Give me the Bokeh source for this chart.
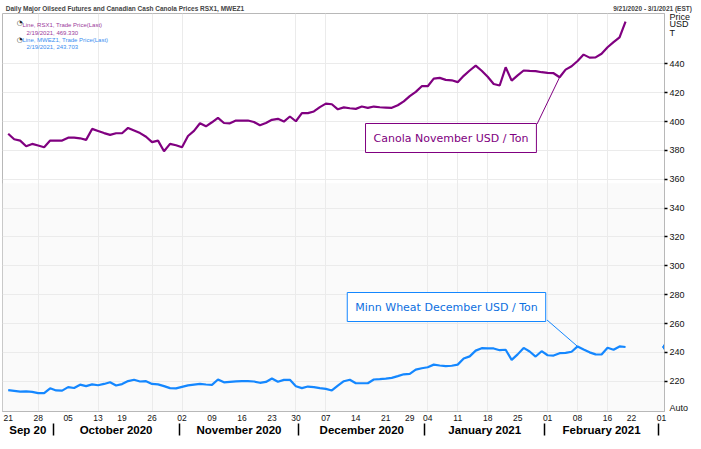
import pandas as pd
from bokeh.plotting import figure
from bokeh.models import Range1d, FixedTicker, LinearAxis, Label, BoxAnnotation, Arrow
from bokeh.embed import file_html
from bokeh.resources import INLINE

# ---------------- data ----------------
first_day = "2020-09-21"
last_day = "2021-03-01"
holidays = ["2020-10-12", "2020-11-26", "2020-12-25", "2020-12-28", "2021-01-01", "2021-02-15"]

canola = [391.5, 387.7, 386.8, 382.9, 384.5, 383.4, 382.2, 386.8, 386.8, 386.8,
          388.8, 388.8, 388.4, 387.3, 394.9, 393.5, 392.0, 390.8, 391.9, 391.9,
          395.6, 393.8, 392.0, 389.5, 385.7, 386.8, 379.4, 384.5, 383.6, 382.2,
          390.0, 393.5, 398.8, 396.7, 399.5, 402.6, 399.0, 398.8, 400.7, 400.7,
          400.7, 399.7, 397.4, 399.0, 401.2, 401.9, 400.0, 403.5, 400.2, 405.8,
          405.8, 407.0, 410.0, 412.4, 412.0, 408.5, 409.8, 409.2, 408.8, 410.4,
          409.5, 410.4, 409.9, 409.7, 409.5, 411.3, 414.0, 417.6, 420.6, 424.5,
          424.5, 429.8, 430.3, 428.9, 428.6, 427.3, 431.7, 435.4, 438.8, 435.2,
          431.0, 426.0, 425.0, 437.6, 428.4, 432.0, 435.4, 435.1, 434.9, 434.2,
          433.8, 433.5, 430.7, 436.0, 438.3, 442.0, 446.4, 444.3, 444.5, 447.0,
          451.5, 455.0, 458.4, 469.33]

wheat = [213.8, 213.3, 212.8, 212.9, 212.6, 211.7, 211.7, 215.1, 213.6, 213.5,
         215.9, 215.3, 217.6, 216.6, 217.8, 217.2, 218.1, 219.3, 217.0, 218.0,
         220.1, 221.0, 219.8, 220.0, 218.1, 217.8, 216.6, 215.2, 215.0, 216.1,
         217.1, 217.6, 218.1, 217.7, 217.5, 221.2, 219.2, 219.6, 219.9, 220.0,
         220.0, 219.8, 218.9, 219.5, 221.9, 219.6, 220.9, 221.0, 216.5, 215.2,
         216.3, 215.9, 215.2, 214.7, 213.6, 217.0, 220.0, 221.0, 218.6, 218.6,
         218.6, 221.2, 221.4, 221.8, 222.3, 223.5, 224.8, 225.1, 228.0, 229.0,
         229.7, 231.5, 230.9, 230.4, 230.7, 231.5, 235.7, 237.2, 241.2, 242.9,
         242.8, 242.7, 241.5, 241.8, 234.8, 238.6, 243.1, 240.6, 237.1, 240.8,
         238.0, 237.8, 239.4, 239.6, 240.4, 244.1, 242.0, 240.0, 238.6, 238.5,
         243.2, 241.8, 244.1, 243.703]

tick_dates = ["2020-09-21", "2020-09-28", "2020-10-05", "2020-10-13", "2020-10-19", "2020-10-26",
              "2020-11-02", "2020-11-09", "2020-11-16", "2020-11-23", "2020-11-30", "2020-12-07",
              "2020-12-14", "2020-12-21", "2020-12-29", "2021-01-04", "2021-01-11", "2021-01-18",
              "2021-01-25", "2021-02-01", "2021-02-08", "2021-02-16", "2021-02-22", "2021-03-01"]
grid_dates = ["2020-09-28", "2020-10-13", "2020-10-26", "2020-11-02", "2020-11-30", "2020-12-07",
              "2021-01-04", "2021-01-11", "2021-01-18", "2021-02-01", "2021-02-08", "2021-02-16"]
month_starts = ["2020-10-01", "2020-11-02", "2020-12-01", "2021-01-04", "2021-02-01", "2021-03-01"]
month_names = ["Sep 20", "October 2020", "November 2020", "December 2020", "January 2021", "February 2021"]
y_ticks = [220, 240, 260, 280, 300, 320, 340, 360, 380, 400, 420, 440]

canola_callout_date = "2021-02-03"
wheat_callout_date = "2021-02-08"

title_text = "Daily Major Oilseed Futures and Canadian Cash Canola Prices RSX1, MWEZ1"
range_text = "9/21/2020 - 3/1/2021 (EST)"
unit_texts = ["Price", "USD", "T"]
auto_text = "Auto"
legend_lines = ["Line, RSX1, Trade Price(Last)", "2/19/2021, 469.330",
                "Line, MWEZ1, Trade Price(Last)", "2/19/2021, 243.703"]
canola_note = "Canola November USD / Ton"
wheat_note = "Minn Wheat December USD / Ton"

# ---------------- trading-day axis ----------------
days = [d for d in pd.bdate_range(first_day, last_day) if d.strftime("%Y-%m-%d") not in holidays]
day_key = [d.strftime("%Y-%m-%d") for d in days]
pos = {k: i for i, k in enumerate(day_key)}
xs_c = list(range(len(canola)))
xs_w = list(range(len(wheat)))

W, H = 693, 441
FL, FT, FR, FB = 2, 13, 667, 411
X0, X1 = -0.95, 109.5
Y0, Y1 = 199.0, 474.9


def px2x(px):
    return X0 + (px - FL) / (FR - FL) * (X1 - X0)


def py2y(py):
    return Y1 - (py - FT) / (FB - FT) * (Y1 - Y0)


p = figure(width=W, height=H, x_range=Range1d(X0, X1), y_range=Range1d(Y0, Y1),
           y_axis_location="right", toolbar_location=None, output_backend="svg",
           min_border_left=FL, min_border_right=W - FR, min_border_top=FT,
           min_border_bottom=H - FB, background_fill_color="white",
           border_fill_color="white", outline_line_color="#b8b8b8")

xa = p.below[0]
ya = p.right[0]

# lower pane shading
p.add_layout(BoxAnnotation(top=py2y(182.7), fill_color="#fafafa", fill_alpha=1.0,
                           line_color=None, level="image"))

# x axis (day numbers)
tick_idx = [pos[d] for d in tick_dates]
xa.ticker = FixedTicker(ticks=tick_idx, minor_ticks=[])
xa.major_label_overrides = {i: d[-2:] for i, d in zip(tick_idx, tick_dates)}
xa.axis_line_color = "#b8b8b8"
xa.major_tick_line_color = None
xa.major_tick_out = 0
xa.major_tick_in = 0
xa.minor_tick_line_color = None
xa.major_label_standoff = 3
xa.major_label_text_font = "Liberation Sans"
xa.major_label_text_font_size = "8.5px"
xa.major_label_text_color = "#111111"

# header row as an axis above the frame
head_pos = [round(px2x(125), 3), round(px2x(655), 3)]
ha = LinearAxis(ticker=FixedTicker(ticks=head_pos, minor_ticks=[]))
ha.major_label_overrides = {head_pos[0]: title_text, head_pos[1]: range_text}
ha.axis_line_color = None
ha.major_tick_line_color = None
ha.major_tick_out = 0
ha.major_tick_in = 0
ha.minor_tick_line_color = None
ha.major_label_standoff = 2
ha.major_label_text_font = "Liberation Sans"
ha.major_label_text_font_style = "bold"
ha.major_label_text_font_size = "6.5px"
ha.major_label_text_color = "#444444"
p.add_layout(ha, "above")

# month axis with separators
bounds = [pos[d] - 0.5 for d in month_starts]
edges = [X0] + bounds
centers = [round((a + b) / 2, 2) for a, b in zip(edges[:-1], edges[1:])]
ma = LinearAxis(ticker=FixedTicker(ticks=centers, minor_ticks=bounds))
ma.major_label_overrides = {c: n for c, n in zip(centers, month_names)}
ma.axis_line_color = None
ma.major_tick_line_color = None
ma.major_tick_out = 0
ma.major_tick_in = 0
ma.minor_tick_line_color = "#000000"
ma.minor_tick_line_width = 1.5
ma.minor_tick_in = 0
ma.minor_tick_out = 12
ma.major_label_standoff = -12
ma.major_label_text_font = "Liberation Sans"
ma.major_label_text_font_style = "bold"
ma.major_label_text_font_size = "11.5px"
ma.major_label_text_color = "#000000"
p.add_layout(ma, "below")

# y axis (right) with unit texts and the "Auto" marker as extra labels
unit_pos = [round(py2y(16), 3), round(py2y(24), 3), round(py2y(32.5), 3)]
auto_pos = round(py2y(407.5), 3)
ya.ticker = FixedTicker(ticks=y_ticks + unit_pos + [auto_pos], minor_ticks=y_ticks)
overrides = {v: t for v, t in zip(unit_pos, unit_texts)}
overrides[auto_pos] = auto_text
ya.major_label_overrides = overrides
ya.axis_line_color = "#b8b8b8"
ya.major_tick_line_color = None
ya.major_tick_out = 3
ya.major_tick_in = 0
ya.minor_tick_line_color = "#000000"
ya.minor_tick_line_width = 1.5
ya.minor_tick_out = 3
ya.minor_tick_in = 0
ya.major_label_standoff = 2
ya.major_label_text_font = "Liberation Sans"
ya.major_label_text_font_size = "9px"
ya.major_label_text_color = "#111111"

# grids
p.xgrid.ticker = FixedTicker(ticks=[pos[d] for d in grid_dates])
p.xgrid.grid_line_color = "#ebebeb"
p.ygrid.ticker = FixedTicker(ticks=y_ticks)
p.ygrid.grid_line_color = "#ebebeb"

# series
canola_color = "#800080"
wheat_color = "#1487ff"
p.line(xs_c, canola, line_color=canola_color, line_width=2.2)
p.line(xs_w, wheat, line_color=wheat_color, line_width=2.2)
p.scatter([X1], [wheat[-1]], marker="diamond", size=6, color=wheat_color)


def lab(text, px, py, **kw):
    opts = dict(text_font="Liberation Sans", text_font_size="6px", text_align="left",
                text_baseline="middle", text_color="#333333")
    opts.update(kw)
    p.add_layout(Label(x=px2x(px), y=py2y(py), text=text, **opts))


# legend block
lab("\u25d4", 19.5, 22.5, text_align="center", text_font="DejaVu Sans", text_font_size="7px",
    text_color="#222222")
lab(legend_lines[0], 22, 24, text_color="#9b3a9b")
lab(legend_lines[1], 26, 32, text_color="#9b3a9b")
lab("\u25d4", 19.5, 39.3, text_align="center", text_font="DejaVu Sans", text_font_size="7px",
    text_color="#222222")
lab(legend_lines[2], 22, 39.5, text_color="#3a8ef0")
lab(legend_lines[3], 26, 46.5, text_color="#3a8ef0")

# callouts
ci = pos[canola_callout_date]
wi = pos[wheat_callout_date]
p.add_layout(Arrow(end=None, x_start=px2x(539), y_start=py2y(123.5), x_end=ci, y_end=canola[ci],
                   line_color=canola_color, line_width=1))
p.add_layout(Arrow(end=None, x_start=px2x(549), y_start=py2y(319.5), x_end=wi, y_end=wheat[wi],
                   line_color=wheat_color, line_width=1))
lab(canola_note, 452.5, 137.5, text_align="center", text_font="DejaVu Sans", text_font_size="11px",
    text_color=canola_color, background_fill_color="white", border_line_color=canola_color,
    border_line_width=1, padding=8)
lab(wheat_note, 448, 306.5, text_align="center", text_font="DejaVu Sans", text_font_size="11px",
    text_color="#0d6fe0", background_fill_color="white", border_line_color=wheat_color,
    border_line_width=1, padding=8)

open("out.html", "w").write(file_html(p, INLINE))
